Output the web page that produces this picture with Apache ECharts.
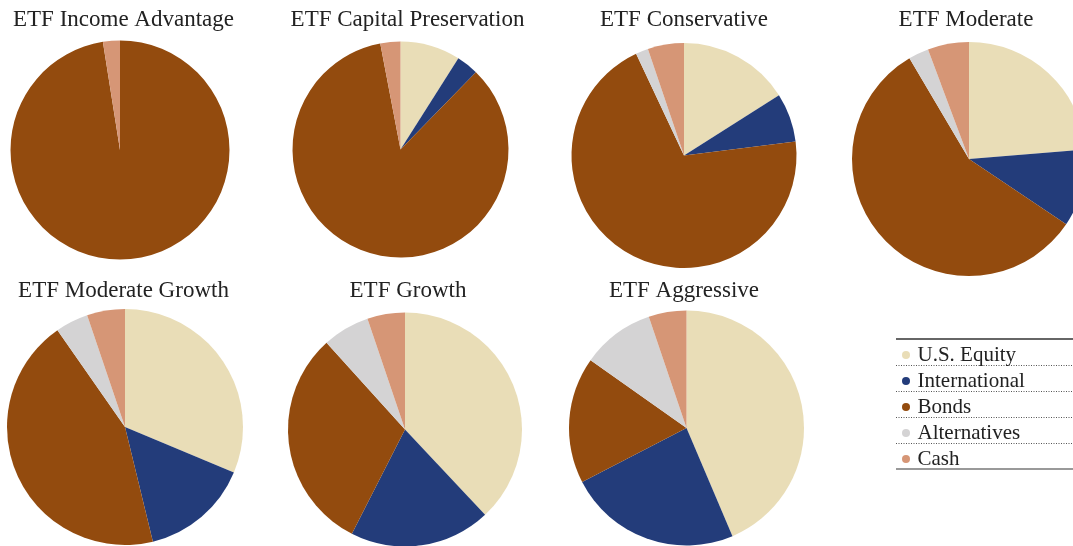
<!DOCTYPE html>
<html>
<head>
<meta charset="utf-8">
<script src="https://cdn.jsdelivr.net/npm/echarts@6/dist/echarts.min.js"></script>
<style>
html,body{margin:0;padding:0;background:#fff;}
#c{width:1073px;height:546px;}
</style>
</head>
<body>
<div id="c"></div>
<script>
// ---- data ----
const categories = ['U.S. Equity', 'International', 'Bonds', 'Alternatives', 'Cash'];
const portfolios = ['ETF Income Advantage', 'ETF Capital Preservation', 'ETF Conservative', 'ETF Moderate',
                    'ETF Moderate Growth', 'ETF Growth', 'ETF Aggressive'];
const incomeAdvantage     = [0, 0, 97.5, 0, 2.5];
const capitalPreservation = [9, 3.3, 84.7, 0, 3];
const conservative        = [16, 7, 70, 1.8, 5.2];
const moderate            = [23.7, 10.7, 57.1, 2.8, 5.7];
const moderateGrowth      = [31.3, 14.9, 44.1, 4.5, 5.2];
const growth              = [38, 19.5, 30.8, 6.5, 5.2];
const aggressive          = [43.6, 23.8, 17.4, 10, 5.2];
const values = [incomeAdvantage, capitalPreservation, conservative, moderate, moderateGrowth, growth, aggressive];

// ---- layout / style ----
const colors = ['#E9DDB7', '#233C7A', '#934B0E', '#D4D3D4', '#D69676'];
const pieCenters = [[120,150],[400.5,149.5],[684,155.5],[969,159],[125,427],[405,429.5],[686.5,428]];
const pieRadii = [109.5, 108, 112.5, 117, 118, 117, 117.5];
const titlePos = [[123.5,8],[407.5,8],[684,8],[966,8],[123.5,279],[408,279],[684,279]];
const FONT = 'Liberation Serif';

const chart = echarts.init(document.getElementById('c'), null, {renderer:'canvas'});

const series = values.map((vals, i) => ({
  type: 'pie',
  name: portfolios[i],
  center: pieCenters[i],
  radius: [0, pieRadii[i]],
  startAngle: 90,
  clockwise: true,
  animation: false,
  silent: true,
  label: {show:false},
  labelLine: {show:false},
  itemStyle: {borderWidth:0},
  emphasis: {disabled:true},
  data: categories.map((c, k) => ({name:c, value:vals[k]}))
}));

const titles = portfolios.map((t, i) => ({
  text: t,
  left: titlePos[i][0],
  top: titlePos[i][1],
  textAlign: 'center',
  padding: 0,
  textStyle: {fontFamily: FONT, fontSize: 23, fontWeight: 'normal', color: '#222'}
}));

const lx = 896, rowH = 26, ly0 = 339;
const graphics = [];
graphics.push({type:'line', shape:{x1:lx, y1:ly0, x2:1073, y2:ly0}, style:{stroke:'#333', lineWidth:1.5}});
for (let k = 1; k < categories.length; k++) {
  const y = ly0 + rowH*k + 0.5;
  graphics.push({type:'line', shape:{x1:lx, y1:y, x2:1073, y2:y}, style:{stroke:'#555', lineWidth:1, lineDash:[1,1.5]}});
}
graphics.push({type:'line', shape:{x1:lx, y1:ly0+rowH*5, x2:1073, y2:ly0+rowH*5}, style:{stroke:'#999', lineWidth:2}});

chart.setOption({
  backgroundColor: '#fff',
  color: colors,
  animation: false,
  title: titles,
  legend: {
    data: categories,
    orient: 'vertical',
    left: 902,
    top: ly0 + 3,
    itemGap: 0,
    itemWidth: 13,
    itemHeight: 8,
    icon: 'circle',
    padding: 0,
    selectedMode: false,
    textStyle: {fontFamily: FONT, fontSize: 21, color: '#222', lineHeight: rowH, height: rowH, padding: [0,0,0,0]}
  },
  graphic: graphics,
  series: series
});
</script>
</body>
</html>
